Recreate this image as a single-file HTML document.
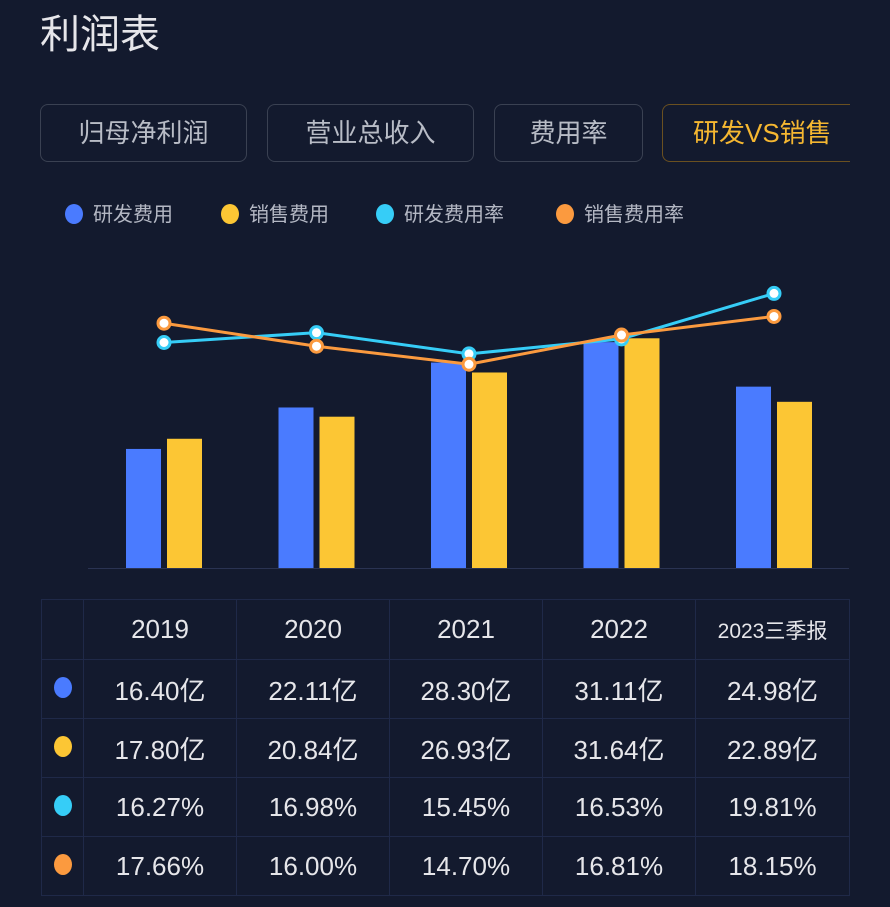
<!DOCTYPE html>
<html><head><meta charset="utf-8"><style>
body{margin:0;width:890px;height:907px;background:#131a2e;font-family:"Liberation Sans","Noto Sans CJK SC",sans-serif;overflow:hidden;position:relative}
.title{position:absolute;left:40px;top:2px;font-size:40px;color:#e6e6ea}
.tab{position:absolute;top:104px;border:1px solid #3a4152;border-radius:8px;color:#b8bcc6;font-size:26px;line-height:56px;text-align:center;box-sizing:border-box;height:58px}
.tab.active{border-color:#6a5020;color:#f5b731;border-right:none;border-radius:8px 0 0 8px}
.leg{position:absolute;top:202px;font-size:20px;color:#b4b8c4;line-height:26px}
.leg i{display:inline-block;width:18px;height:20px;border-radius:50%;vertical-align:-3px;margin-right:10px}
table{position:absolute;left:41px;top:599px;border-collapse:collapse;width:808px;table-layout:fixed}
td{border:1px solid #1f2948;color:#e6e6ea;font-size:26px;text-align:center;height:58px;padding:0;white-space:nowrap}
td.d i{display:inline-block;width:18px;height:21px;border-radius:50%}
</style></head><body>
<div class="title">利润表</div>
<div class="tab" style="left:40px;width:207px">归母净利润</div>
<div class="tab" style="left:267px;width:207px">营业总收入</div>
<div class="tab" style="left:494px;width:149px">费用率</div>
<div class="tab active" style="left:662px;width:188px;text-align:left;padding-left:30px;overflow:hidden;white-space:nowrap">研发VS销售</div>
<div class="leg" style="left:65px"><i style="background:#4a7bff"></i>研发费用</div>
<div class="leg" style="left:221px"><i style="background:#fcc634"></i>销售费用</div>
<div class="leg" style="left:376px"><i style="background:#36cdf7"></i>研发费用率</div>
<div class="leg" style="left:556px"><i style="background:#fb9a3f"></i>销售费用率</div>
<svg id="chart" width="890" height="600" style="position:absolute;left:0;top:0"></svg>
<table>
<colgroup><col style="width:42px"><col style="width:153px"><col style="width:153px"><col style="width:153px"><col style="width:153px"><col style="width:154px"></colgroup>
<tr style="height:60px"><td class="d"></td><td>2019</td><td>2020</td><td>2021</td><td>2022</td><td style="font-size:21px">2023三季报</td></tr>
<tr><td class="d"><i style="background:#4a7bff"></i></td><td>16.40亿</td><td>22.11亿</td><td>28.30亿</td><td>31.11亿</td><td>24.98亿</td></tr>
<tr><td class="d"><i style="background:#fcc634"></i></td><td>17.80亿</td><td>20.84亿</td><td>26.93亿</td><td>31.64亿</td><td>22.89亿</td></tr>
<tr><td class="d"><i style="background:#36cdf7"></i></td><td>16.27%</td><td>16.98%</td><td>15.45%</td><td>16.53%</td><td>19.81%</td></tr>
<tr><td class="d"><i style="background:#fb9a3f"></i></td><td>17.66%</td><td>16.00%</td><td>14.70%</td><td>16.81%</td><td>18.15%</td></tr>
</table>
<script>
const categories=["2019","2020","2021","2022","2023三季报"];
const rdExpense=[16.40,22.11,28.30,31.11,24.98];
const salesExpense=[17.80,20.84,26.93,31.64,22.89];
const rdRate=[16.27,16.98,15.45,16.53,19.81];
const salesRate=[17.66,16.00,14.70,16.81,18.15];
const NS="http://www.w3.org/2000/svg";
const svg=document.getElementById('chart');
const base=568;
const xC=i=>164+i*152.5;
const yBar=v=>base-v*7.26;
const yRate=v=>base-v*13.86;
function mk(t,a){const e=document.createElementNS(NS,t);for(const k in a)e.setAttribute(k,a[k]);svg.appendChild(e);return e;}
const ax=mk('line',{x1:88,x2:849,y1:base+0.5,y2:base+0.5,stroke:'#2a3352','stroke-width':1});


categories.forEach((c,i)=>{
  const b1=mk('rect',{x:xC(i)-38,y:yBar(rdExpense[i]),width:35,height:base-yBar(rdExpense[i]),fill:'#4a7bff'});
  
  
  const b2=mk('rect',{x:xC(i)+3,y:yBar(salesExpense[i]),width:35,height:base-yBar(salesExpense[i]),fill:'#fcc634'});
  
  
});
function line(arr,col,nm){
  const p=mk('polyline',{points:arr.map((v,i)=>xC(i)+','+yRate(v)).join(' '),fill:'none',stroke:col,'stroke-width':3});
  
  
  arr.forEach((v,i)=>{
    const c=mk('circle',{cx:xC(i),cy:yRate(v),r:6,fill:'#fff',stroke:col,'stroke-width':3});
    
    
  });
}
line(rdRate,'#36cdf7','rd-rate');
line(salesRate,'#fb9a3f','sales-rate');
</script>
</body></html>
